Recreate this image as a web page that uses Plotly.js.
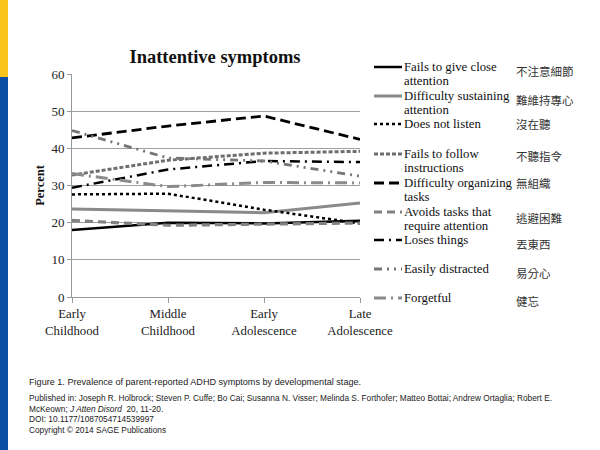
<!DOCTYPE html>
<html><head><meta charset="utf-8">
<script src="https://cdn.plot.ly/plotly-3.0.1.min.js"></script>
<style>html,body{margin:0;padding:0;background:#fff;}#chart{width:600px;height:450px;}</style>
</head><body><div id="chart"></div>
<script>
// ---- data ----
const stages = ["Early<br>Childhood", "Middle<br>Childhood", "Early<br>Adolescence", "Late<br>Adolescence"];
const seriesNames = ["Fails to give close<br>attention", "Difficulty sustaining<br>attention", "Does not listen",
  "Fails to follow<br>instructions", "Difficulty organizing<br>tasks", "Avoids tasks that<br>require attention",
  "Loses things", "Easily distracted", "Forgetful"];
const seriesChinese = ["不注意細節", "難維持專心", "沒在聽", "不聽指令", "無組織", "逃避困難", "丟東西", "易分心", "健忘"];
const failsCloseAttention = [18.0, 20.0, 19.8, 20.5];
const difficultySustaining = [23.7, 23.2, 22.7, 25.3];
const doesNotListen = [27.6, 27.8, 23.5, 19.8];
const failsFollowInstructions = [32.8, 36.8, 38.7, 39.2];
const difficultyOrganizing = [42.8, 46.0, 48.7, 42.4];
const avoidsTasks = [20.6, 19.3, 19.6, 19.9];
const losesThings = [29.4, 34.3, 36.6, 36.3];
const easilyDistracted = [44.8, 37.4, 36.6, 32.5];
const forgetful = [33.2, 29.7, 30.8, 30.7];
const yTicks = [0, 10, 20, 30, 40, 50, 60];
const captionLines = ["Figure 1. Prevalence of parent-reported ADHD symptoms by developmental stage."];
const creditLines = [
  "Published in: Joseph R. Holbrock; Steven P. Cuffe; Bo Cai; Susanna N. Visser; Melinda S. Forthofer; Matteo Bottai; Andrew Ortaglia; Robert E.",
  "McKeown; <i>J Atten Disord</i>  20, 11-20.",
  "DOI: 10.1177/1087054714539997",
  "Copyright © 2014 SAGE Publications"];

const allValues = [failsCloseAttention, difficultySustaining, doesNotListen, failsFollowInstructions,
  difficultyOrganizing, avoidsTasks, losesThings, easilyDistracted, forgetful];

// ---- styles ----
const styles = [
  {color: "#000000", width: 2.5, dash: "solid"},
  {color: "#8a8a8a", width: 3, dash: "solid"},
  {color: "#000000", width: 2.5, dash: "dot"},
  {color: "#6e6e6e", width: 3, dash: "4px,2px"},
  {color: "#000000", width: 2.8, dash: "10px,5px"},
  {color: "#828282", width: 3.2, dash: "8px,5px"},
  {color: "#000000", width: 2.5, dash: "10px,5px,2px,5px"},
  {color: "#767676", width: 2.8, dash: "8px,5px,2px,5px,2px,5px"},
  {color: "#8a8a8a", width: 3, dash: "12px,5px,2px,5px"}
];

const xIdx = [0, 1, 2, 3];
const traces = allValues.map((vals, i) => ({
  type: "scatter", mode: "lines", x: xIdx, y: vals, name: seriesNames[i].replace("<br>", " "),
  line: {color: styles[i].color, width: styles[i].width, dash: styles[i].dash},
  showlegend: false, hoverinfo: "skip", cliponaxis: false
}));

const W = 600, H = 450;
const M = {l: 72, r: 240, t: 74, b: 153};
const PW = W - M.l - M.r, PH = H - M.t - M.b;
const px = v => (v - M.l) / PW, py = v => (H - M.b - v) / PH;

const serif = "Liberation Serif, Times New Roman, serif";
const shapes = [
  {type: "rect", xref: "paper", yref: "paper", x0: px(0), x1: px(8), y0: py(77), y1: py(0), fillcolor: "#f7c31c", line: {width: 0}, layer: "below"},
  {type: "rect", xref: "paper", yref: "paper", x0: px(0), x1: px(8), y0: py(450), y1: py(77), fillcolor: "#0b4ea2", line: {width: 0}, layer: "below"}
];
const annotations = [];

// legend rows (y of first line)
const legendRowY = [67, 96, 124, 154, 183, 212, 240, 269, 298];
const legendZhY = [71, 100, 124, 156, 183, 218, 244, 273, 301];
seriesNames.forEach((n, i) => {
  const y = legendRowY[i];
  shapes.push({type: "line", xref: "paper", yref: "paper", x0: px(374), x1: px(402), y0: py(y), y1: py(y),
    line: {color: styles[i].color, width: styles[i].width, dash: styles[i].dash}});
  n.split("<br>").forEach((part, j) => {
    annotations.push({xref: "paper", yref: "paper", x: px(402), y: py(y + j * 14.3), xanchor: "left", yanchor: "middle",
      text: part, showarrow: false, align: "left", font: {family: serif, size: 12.8, color: "#111"}});
  });
  annotations.push({xref: "paper", yref: "paper", x: px(514), y: py(legendZhY[i]), xanchor: "left", yanchor: "middle",
    text: seriesChinese[i], showarrow: false, font: {family: "Noto Sans CJK TC, sans-serif", size: 11.5, color: "#333"}});
});

annotations.push({xref: "paper", yref: "paper", x: px(27), y: py(382), xanchor: "left", yanchor: "middle",
  text: captionLines[0], showarrow: false, font: {family: "Liberation Sans, Arial, sans-serif", size: 9.1, color: "#222"}});
creditLines.forEach((t, i) => {
  annotations.push({xref: "paper", yref: "paper", x: px(27), y: py(398 + i * 10.7), xanchor: "left", yanchor: "middle",
    text: t, showarrow: false, font: {family: "Liberation Sans, Arial, sans-serif", size: 8.3, color: "#222"}});
});

const layout = {
  width: W, height: H, margin: M,
  paper_bgcolor: "#ffffff", plot_bgcolor: "#ffffff",
  title: {text: "<b>Inattentive symptoms</b>", x: 215 / W, xanchor: "center", y: 1 - 57 / H, yanchor: "middle",
    font: {family: serif, size: 18.5, color: "#111"}},
  xaxis: {type: "linear", range: [0, 3], tickvals: xIdx, ticktext: stages, showgrid: false, zeroline: false,
    showline: true, linecolor: "#999", linewidth: 1, ticks: "outside", ticklen: 5, tickcolor: "#999",
    tickfont: {family: serif, size: 12.8, color: "#222"}, fixedrange: true},
  yaxis: {range: [0, 60], tickvals: yTicks, showgrid: true, gridcolor: "#a0a0a0", gridwidth: 1, zeroline: false,
    showline: true, linecolor: "#999", linewidth: 1, ticks: "outside", ticklen: 4, tickcolor: "#999",
    tickfont: {family: serif, size: 13, color: "#222"},
    title: {text: "<b>Percent</b>", font: {family: serif, size: 12.5, color: "#111"}, standoff: 4}, fixedrange: true},
  shapes: shapes, annotations: annotations, showlegend: false
};

Plotly.newPlot("chart", traces, layout, {staticPlot: true, displayModeBar: false});
</script></body></html>
